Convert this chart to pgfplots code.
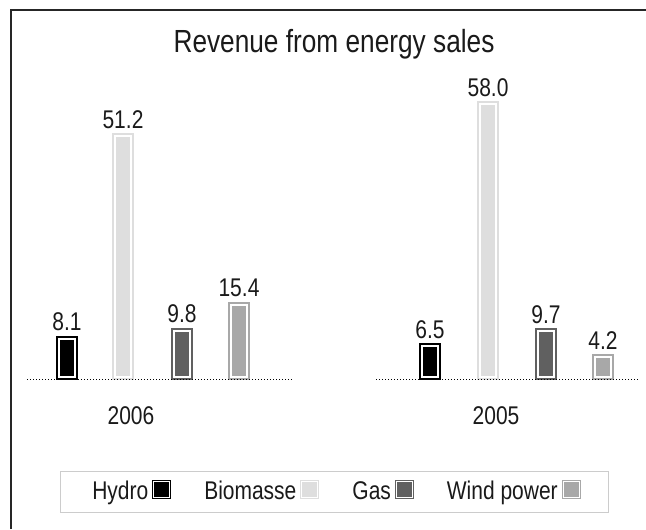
\documentclass[border=0pt]{standalone}
\usepackage{fontspec}
\setmainfont{Liberation Sans}[FakeStretch=0.82]
\usepackage{pgfplots}
\pgfplotsset{compat=1.18}
\definecolor{cHydro}{HTML}{000000}
\definecolor{cBio}{HTML}{DEDEDE}
\definecolor{cGas}{HTML}{606060}
\definecolor{cWind}{HTML}{A8A8A8}
\definecolor{txt}{HTML}{1A1A1A}
\begin{document}
\begin{tikzpicture}
\path[use as bounding box] (0,0) rectangle (323pt,264.5pt);
\begin{axis}[
  at={(0pt,0pt)}, anchor=south west,
  scale only axis, width=323pt, height=264.5pt,
  xmin=0, xmax=646, ymin=-32.34, ymax=80.21,
  hide axis, clip=false,
  legend plot pos=right,
  legend columns=4,
  legend style={at={(rel axis cs:0.5178,0.0699)}, anchor=center,
    draw=black!20, line width=0.5pt,
    font=\fontsize{12.8}{14}\selectfont, text=txt,
    inner xsep=14pt, inner ysep=3pt,
    cells={inner sep=0pt},
    column sep=0pt,
    /tikz/every even column/.append style={column sep=14.5pt}},
  barstyle/.style={ybar, bar width=16, bar shift=0pt,
    draw=#1, fill=#1, line width=1pt, double=white, double distance=1pt,
    nodes near coords={\pgfmathprintnumber[fixed,fixed zerofill,precision=1,assume math mode=true]{\pgfplotspointmeta}},
    every node near coord/.append style={font=\fontsize{12.8}{14}\selectfont, text=txt, anchor=south, inner sep=0pt, yshift=3.5pt},
    legend image code/.code={\draw[draw=#1, fill=#1, line width=0.5pt, double=white, double distance=0.5pt] (-1pt,-2.75pt) rectangle (7pt,5.25pt);}},
]
% bars: x = horizontal position, y = revenue
\addplot[barstyle=cHydro] coordinates {(67,8.1) (430,6.5)};
\addlegendentry{Hydro}
\addplot[barstyle=cBio] coordinates {(123,51.2) (488,58.0)};
\addlegendentry{Biomasse}
\addplot[barstyle=cGas] coordinates {(182,9.8) (546,9.7)};
\addlegendentry{Gas}
\addplot[barstyle=cWind] coordinates {(239,15.4) (603,4.2)};
\addlegendentry{Wind power}
% dotted baselines
\addplot[forget plot, black, line width=0.5pt, dash pattern=on 0.5pt off 1pt] coordinates {(27,-0.638) (292,-0.638)};
\addplot[forget plot, black, line width=0.5pt, dash pattern=on 0.5pt off 1pt] coordinates {(376,-0.638) (640,-0.638)};
% frame
\draw[black!85, line width=0.8pt] (axis cs:11,-32.34) -- (axis cs:11,78.09) -- (axis cs:646,78.09);
% title and group labels
\node[anchor=base, font=\fontsize{16}{19}\selectfont, text=txt] at (axis cs:334,68.94) {Revenue from energy sales};
\node[anchor=base, font=\fontsize{12.8}{14}\selectfont, text=txt] at (axis cs:131,-10.21) {2006};
\node[anchor=base, font=\fontsize{12.8}{14}\selectfont, text=txt] at (axis cs:496,-10.21) {2005};
\end{axis}
\end{tikzpicture}
\end{document}
